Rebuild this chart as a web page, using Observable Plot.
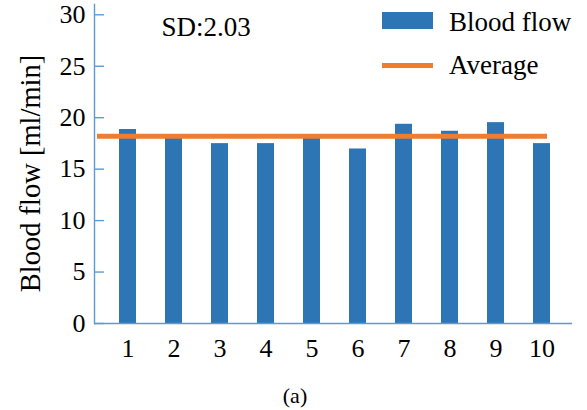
<!DOCTYPE html>
<html>
<head>
<meta charset="utf-8">
<script src="https://cdn.jsdelivr.net/npm/d3@7"></script>
<script src="https://cdn.jsdelivr.net/npm/@observablehq/plot@0.6"></script>
<style>
  html, body { margin: 0; padding: 0; background: #fff; }
  #wrap { position: relative; width: 587px; height: 410px; font-family: 'Liberation Serif', 'Times New Roman', Times, 'DejaVu Serif', serif; }
  #wrap svg, #wrap svg text { font-family: 'Liberation Serif', 'Times New Roman', Times, 'DejaVu Serif', serif !important; }
  .lg-sw { position: absolute; }
  .lg-tx { position: absolute; font-size: 27px; line-height: 27px; color: #000; white-space: nowrap; }
</style>
</head>
<body>
<div id="wrap"></div>
<script>
const categories = ["1", "2", "3", "4", "5", "6", "7", "8", "9", "10"];
const bloodFlow = [18.85, 18.1, 17.48, 17.48, 18.1, 16.96, 19.36, 18.68, 19.52, 17.48];
const average = 18.2;
const yTicks = [0, 5, 10, 15, 20, 25, 30];
const sdLabel = "SD:2.03";
const yLabel = "Blood flow [ml/min]";
const caption = "(a)";
const seriesNames = ["Blood flow", "Average"];

const barColor = "#2E75B6";
const avgColor = "#ED7D31";
const axisColor = "#5B9BD5";
const fontStack = "'Liberation Serif', 'Times New Roman', Times, 'DejaVu Serif', serif";

const data = categories.map((c, i) => ({cat: c, flow: bloodFlow[i]}));

const chart = Plot.plot({
  width: 587,
  height: 410,
  marginLeft: 94,
  marginRight: 15,
  marginTop: 4,
  marginBottom: 87,
  style: {fontFamily: fontStack, background: "transparent", color: "#000", overflow: "visible"},
  x: {domain: categories, paddingInner: 0.64, paddingOuter: 0.32, insetLeft: 10, insetRight: 7},
  y: {domain: [0, 31]},
  marks: [
    Plot.barY(data, {x: "cat", y: "flow", fill: barColor}),
    Plot.ruleY([average], {stroke: avgColor, strokeWidth: 5, insetLeft: 3, insetRight: 25}),
    Plot.ruleY([0], {stroke: axisColor, strokeWidth: 1.4}),
    Plot.frame({anchor: "left", stroke: axisColor, strokeWidth: 1.4}),
    Plot.gridY(yTicks, {stroke: axisColor, strokeOpacity: 1, strokeWidth: 1.4, insetRight: 468}),
    Plot.axisY({ticks: yTicks, tickSize: 0, tickPadding: 9, fontSize: 26, label: null}),
    Plot.axisX({tickSize: 0, tickPadding: 15, fontSize: 26, label: null}),
    Plot.text([yLabel], {frameAnchor: "left", dx: -64, dy: 9.5, rotate: -90, fontSize: 28.5, textAnchor: "middle", lineAnchor: "middle"}),
    Plot.text([sdLabel], {frameAnchor: "top-left", dx: 67, dy: 22.5, textAnchor: "start", lineAnchor: "middle", fontSize: 27}),
    Plot.text([caption], {frameAnchor: "bottom", dx: -38.5, dy: 72, lineAnchor: "middle", fontSize: 22})
  ]
});

const wrap = document.getElementById("wrap");
wrap.appendChild(chart);

const legend = [
  {name: seriesNames[0], sw: {left: 382, top: 12, width: 51, height: 17, background: barColor}, top: 8.8},
  {name: seriesNames[1], sw: {left: 382, top: 62.5, width: 51, height: 5, background: avgColor}, top: 52.3}
];
legend.forEach(l => {
  const s = document.createElement("div");
  s.className = "lg-sw";
  s.style.left = l.sw.left + "px";
  s.style.top = l.sw.top + "px";
  s.style.width = l.sw.width + "px";
  s.style.height = l.sw.height + "px";
  s.style.background = l.sw.background;
  wrap.appendChild(s);
  const t = document.createElement("div");
  t.className = "lg-tx";
  t.style.left = "449px";
  t.style.top = l.top + "px";
  t.textContent = l.name;
  wrap.appendChild(t);
});
chart.style.position = "absolute";
chart.style.left = "0";
chart.style.top = "0";
</script>
</body>
</html>
